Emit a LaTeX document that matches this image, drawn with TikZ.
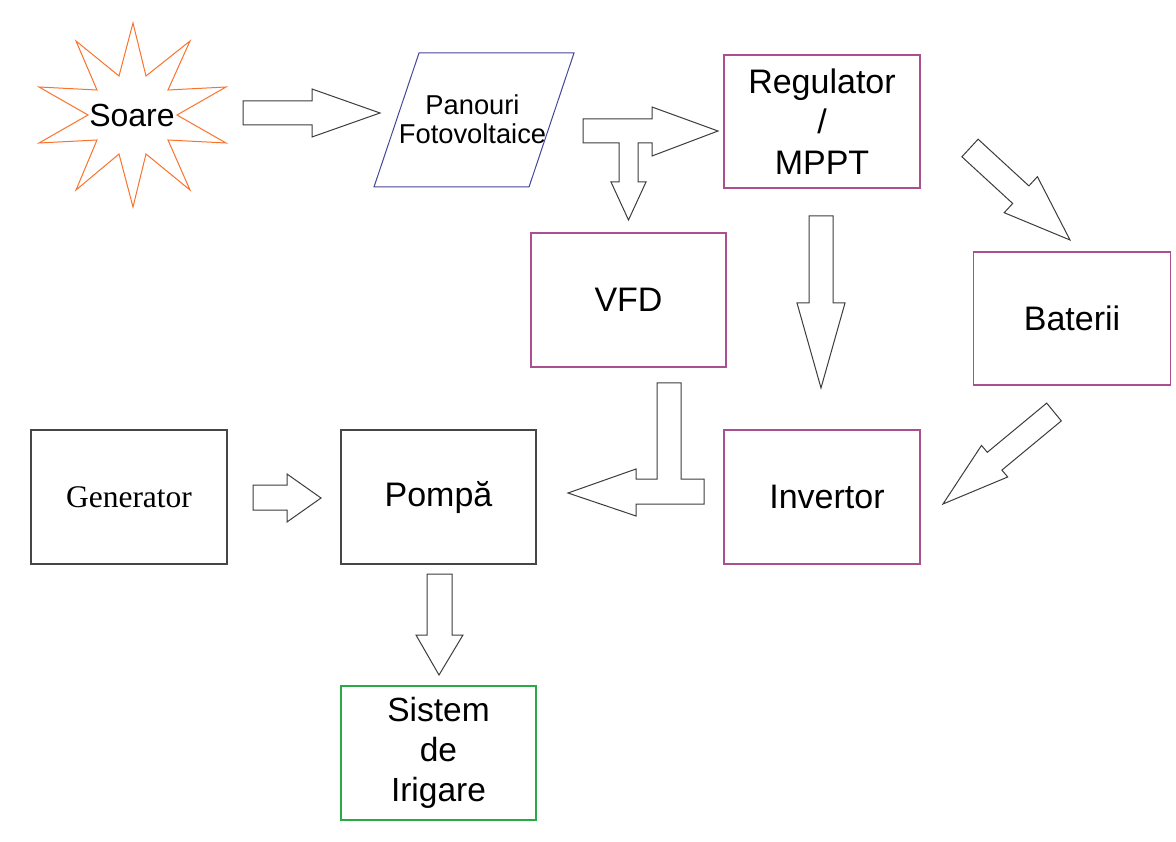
\documentclass[tikz,border=0pt]{standalone}
\usepackage{fontspec}
\setmainfont{Liberation Sans}
\newfontfamily\serifgen{Liberation Serif}
\definecolor{boxpurple}{RGB}{170,80,145}
\definecolor{boxgreen}{RGB}{40,170,70}
\definecolor{parablue}{RGB}{70,70,155}
\definecolor{sunorange}{RGB}{250,115,45}
\definecolor{arrowgray}{RGB}{60,60,60}
\definecolor{boxgray}{RGB}{70,70,70}
\begin{document}
\begin{tikzpicture}[x=1pt,y=-1pt,
  blockarrow/.style={draw=arrowgray, line width=1pt, fill=white, line join=miter},
  basebox/.style={line width=1.3pt, inner sep=0pt, align=center, fill=white,
    font=\fontsize{34}{40.5}\selectfont},
  pbox/.style={basebox, draw=boxpurple},
  gbox/.style={basebox, draw=boxgray},
  greenbox/.style={basebox, draw=boxgreen, font=\fontsize{33.5}{40}\selectfont},
  txt/.style={inner sep=0pt, align=center}]
\useasboundingbox (0,0) rectangle (1176,842);
\fill[white] (0,0) rectangle (1176,842);

% Sun
\draw[draw=sunorange, line width=1pt, line join=miter]
  (133,23) -- (146,76) -- (190,41) -- (168,90) -- (226,87) -- (177,115)
  -- (226,143) -- (168,140) -- (190,190) -- (146,154) -- (133,207)
  -- (119,154) -- (76,190) -- (97,140) -- (39,143) -- (88,115)
  -- (39,87) -- (97,90) -- (76,41) -- (119,76) -- cycle;
\node[txt, font=\fontsize{32}{38}\selectfont] (soare) at (132,115) {Soare};

% Panels
\draw[draw=parablue, line width=1pt] (419,53) -- (574,53) -- (529,187) -- (374,187) -- cycle;
\node[txt, font=\fontsize{27.3}{29}\selectfont] (panouri) at (472.5,119) {Panouri\\Fotovoltaice};

% Boxes
\node[pbox, minimum width=196pt, minimum height=133pt] (reg) at (822,121.5) {Regulator\\/\\MPPT};
\node[pbox, minimum width=195pt, minimum height=134pt] (vfd) at (628.5,300) {VFD};
\node[pbox, minimum width=197pt, minimum height=133pt] (bat) at (1072,318.5) {Baterii};
\node[pbox, minimum width=196pt, minimum height=134pt] (inv) at (822,497) {\hspace*{10pt}Invertor};
\node[gbox, minimum width=196pt, minimum height=134pt, font=\serifgen\fontsize{31.5}{36}\selectfont] (gen) at (129,497) {Generator};
\node[gbox, minimum width=195pt, minimum height=134pt] (pompa) at (438.5,497) {Pompă};
\node[greenbox, minimum width=195pt, minimum height=134pt] (irig) at (438.5,753) {Sistem\\de\\Irigare};

% Soare -> Panouri
\draw[blockarrow] (243,101) -- (312,101) -- (312,89) -- (380,113) -- (312,137) -- (312,125) -- (243,125) -- cycle;

% Panouri -> Regulator and VFD (T arrow)
\draw[blockarrow] (583,119) -- (652,119) -- (652,107) -- (718,131) -- (652,156) -- (652,143)
  -- (638,143) -- (638,182) -- (646,182) -- (628.5,220) -- (611,182) -- (619,182)
  -- (619,143) -- (583,143) -- cycle;

% Regulator -> Baterii
\draw[blockarrow] (961.9,156.8) -- (978.1,139.2) -- (1028.9,185.9) -- (1037.4,176.7)
  -- (1070,240) -- (1004.2,212.7) -- (1012.7,203.5) -- cycle;

% Regulator -> Invertor
\draw[blockarrow] (809,216) -- (833,216) -- (833,303) -- (845,303) -- (821,388) -- (797,303) -- (809,303) -- cycle;

% Baterii -> Invertor
\draw[blockarrow] (1046.7,403.1) -- (1061.3,420.9) -- (1001.9,470.1) -- (1007.7,477.0)
  -- (943,504) -- (981.5,445.4) -- (987.3,452.3) -- cycle;

% VFD/Invertor -> Pompa (L arrow)
\draw[blockarrow] (568,493) -- (636,469) -- (636,479) -- (657,479) -- (657,383) -- (681,383)
  -- (681,479) -- (704,479) -- (704,504) -- (636,504) -- (636,516) -- cycle;

% Generator -> Pompa
\draw[blockarrow] (253,485) -- (287,485) -- (287,474) -- (321,498) -- (287,522) -- (287,510) -- (253,510) -- cycle;

% Pompa -> Sistem de Irigare
\draw[blockarrow] (427,574) -- (452,574) -- (452,635) -- (463,635) -- (439,675) -- (416,635) -- (427,635) -- cycle;
\end{tikzpicture}
\end{document}
